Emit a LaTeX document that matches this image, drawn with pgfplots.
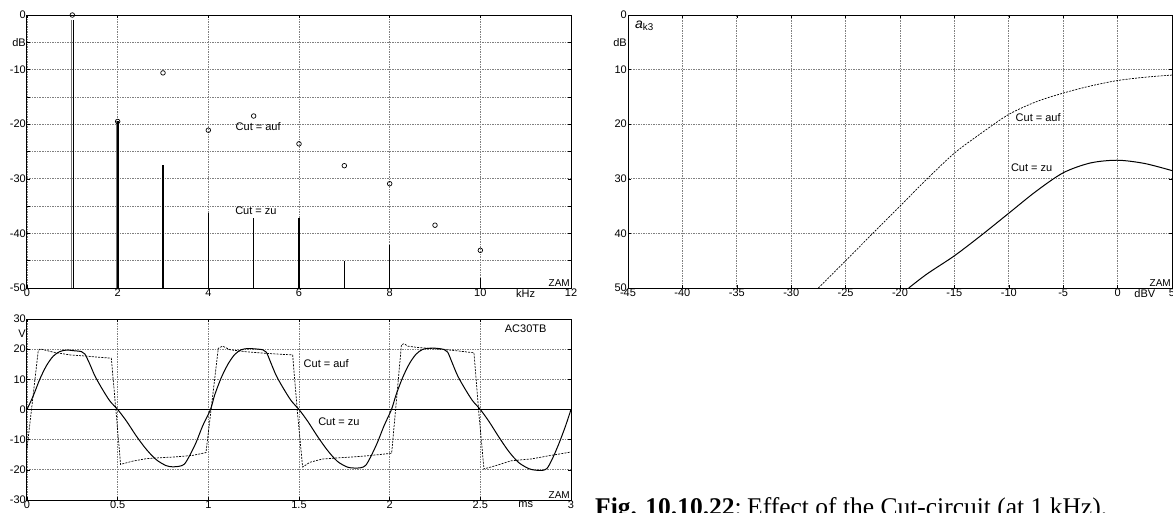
\documentclass[border=0pt]{standalone}
\usepackage{fontspec}
\setmainfont{Liberation Sans}
\newfontfamily\capfont{Liberation Serif}
\usepackage{pgfplots}
\pgfplotsset{compat=1.18}

\pgfplotsset{
  oscbase/.style={
    scale only axis,
    axis line style={black, line width=1pt},
    grid=major,
    major grid style={black!50, line width=0.7pt, dash pattern=on 1.5pt off 1pt},
    tick style={black, line width=0.6pt},
    major tick length=3pt,
    tick label style={font=\fontsize{11}{12}\selectfont, inner sep=1pt},
    extra x tick style={grid=none, major tick length=0pt},
    extra y tick style={grid=none, major tick length=0pt},
  },
}
\tikzset{lab/.style={font=\fontsize{11}{12}\selectfont, inner sep=1pt},
  zam/.style={anchor=south east, font=\fontsize{10}{10}\selectfont, inner sep=1pt}}

\begin{document}
\begin{tikzpicture}
\useasboundingbox (0pt,0pt) rectangle (1173pt,-513pt);

% ---------- spectrum ----------
\begin{axis}[oscbase,
  at={(27pt,-288pt)}, anchor=south west,
  width=544pt, height=273pt,
  xmin=0, xmax=12, ymin=-50, ymax=0,
  xtick={0,2,...,12}, xticklabels={0,2,4,6,8,10,12},
  ytick={-50,-45,...,0}, yticklabels={-50,,-40,,-30,,-20,,-10,dB,0},
  extra x ticks={11}, extra x tick labels={kHz},
  clip=false, unbounded coords=jump,
]
\addplot[black!55, line width=0.9pt] coordinates {
  (0.975,-50) (0.975,-1) (nan,nan)
  (1.98,-50) (1.98,-19.5)
};
\addplot[black, line width=1.4pt] coordinates {
  (1.02,-50) (1.02,-1) (nan,nan)
  (2.01,-50) (2.01,-19.5) (nan,nan)
  (3,-50) (3,-27.5) (nan,nan)
  (4,-50) (4,-36.3) (nan,nan)
  (5,-50) (5,-37.2) (nan,nan)
  (6,-50) (6,-37.2) (nan,nan)
  (7,-50) (7,-45) (nan,nan)
  (8,-50) (8,-42.2) (nan,nan)
  (10,-50) (10,-48.2)
};
\addplot[only marks, mark=o, mark size=2.3pt, black, line width=0.7pt] coordinates {
  (1,0) (2,-19.5) (3,-10.6) (4,-21.1) (5,-18.5) (6,-23.6)
  (7,-27.6) (8,-30.9) (9,-38.5) (10,-43.1)
};
\node[lab] at (axis cs:5.1,-20.5) {Cut = auf};
\node[lab] at (axis cs:5.05,-35.8) {Cut = zu};
\node[zam] at (rel axis cs:1,0) {ZAM};
\end{axis}

% ---------- a_k3 ----------
\begin{axis}[oscbase,
  at={(628pt,-288pt)}, anchor=south west,
  width=544pt, height=273pt,
  xmin=-45, xmax=5, ymin=0, ymax=50, y dir=reverse,
  xtick={-45,-40,...,5}, xticklabels={-45,-40,-35,-30,-25,-20,-15,-10,-5,0,5},
  ytick={0,10,...,50}, yticklabels={0,10,20,30,40,50},
  extra x ticks={2.5}, extra x tick labels={dBV},
  extra y ticks={5}, extra y tick labels={dB},
]
\addplot[black, line width=0.7pt, dash pattern=on 2pt off 1.2pt, smooth] coordinates {
  (-27.5,50) (-25,45) (-22.5,40) (-20,35) (-17.5,30) (-15,25.3)
  (-12.5,21.6) (-10,18.2) (-7.5,15.9) (-5,14.3) (-2.5,13) (0,12) (2.5,11.4) (5,11)
};
\addplot[black, line width=1pt, smooth] coordinates {
  (-19.2,50) (-17.5,47.4) (-15,44.1) (-12.5,40.3) (-10,36.3) (-7.5,32.3)
  (-5,28.9) (-2.5,27.1) (0,26.6) (2.5,27.2) (5,28.5)
};
\node[lab] at (axis cs:-7.3,18.8) {Cut = auf};
\node[lab] at (axis cs:-7.9,28.0) {Cut = zu};
\node[anchor=north west, inner sep=0pt, font=\fontsize{14}{14}\selectfont] at ([xshift=7pt,yshift=-6pt]rel axis cs:0,1) {\textit{a}\textsubscript{k3}};
\node[zam] at (rel axis cs:1,0) {ZAM};
\end{axis}

% ---------- time signal ----------
\begin{axis}[oscbase,
  at={(27pt,-500pt)}, anchor=south west,
  width=544pt, height=181pt,
  xmin=0, xmax=3, ymin=-30, ymax=30,
  xtick={0,0.5,...,3}, xticklabels={0,0.5,1,1.5,2,2.5,3},
  ytick={-30,-20,...,30}, yticklabels={-30,-20,-10,0,10,20,30},
  extra x ticks={2.75}, extra x tick labels={ms},
  extra y ticks={25}, extra y tick labels={V},
]
\addplot[black, line width=0.8pt] coordinates {(0,0) (3,0)};
\addplot[black, line width=0.7pt, dash pattern=on 2pt off 1.2pt] coordinates {
  (0,-13) (0.062,19.5) (0.073,20.1) (0.145,19) (0.236,18.1) (0.328,17.7)
  (0.4,17.3) (0.465,17) (0.49,0) (0.516,-18.2) (0.584,-17.1) (0.658,-16.3)
  (0.731,-16) (0.822,-15.7) (0.914,-15.2) (0.987,-14.3)
  (1.055,20.3) (1.079,21) (1.12,19.8) (1.2,19.2) (1.3,18.7) (1.4,18.3)
  (1.465,18.1) (1.49,0) (1.52,-19.1) (1.56,-17.5) (1.63,-16.4) (1.75,-15.9)
  (1.85,-15.5) (1.95,-14.9) (2.011,-14.5)
  (2.065,21.5) (2.08,21.8) (2.1,21) (2.15,20.6) (2.25,20.1) (2.35,19.6)
  (2.465,18.8) (2.49,0) (2.52,-19.7) (2.58,-18.7) (2.67,-17) (2.78,-16.4)
  (2.89,-15.2) (3,-14.1)
};
\addplot[black, line width=1pt, smooth] coordinates {
  (0,0) (0.035,4.6) (0.071,10.1) (0.108,14.6) (0.145,17.7) (0.181,19.2)
  (0.218,19.7) (0.255,19.5) (0.3,19.2) (0.319,18.4) (0.346,15.1) (0.374,11.2)
  (0.41,7.3) (0.456,2.9) (0.5,0) (0.548,-3.8) (0.603,-8.8) (0.658,-13.2)
  (0.712,-16.6) (0.767,-18.6) (0.804,-19) (0.841,-18.8) (0.868,-18.1)
  (0.896,-15.4) (0.932,-11) (0.969,-5.4) (1.012,0)
  (1.035,4.8) (1.071,10.5) (1.108,15) (1.145,18.2) (1.181,19.8) (1.218,20.2)
  (1.255,20.1) (1.3,19.8) (1.32,19) (1.346,15.3) (1.374,11.3) (1.41,7.4)
  (1.456,3) (1.5,0) (1.548,-3.9) (1.603,-9) (1.658,-13.6) (1.712,-17.2)
  (1.767,-19.1) (1.804,-19.4) (1.841,-19.3) (1.868,-18.5) (1.896,-15.6)
  (1.932,-11) (1.969,-5.4) (2.01,0)
  (2.035,4.8) (2.071,10.5) (2.108,15.1) (2.145,18.3) (2.181,19.9) (2.218,20.3)
  (2.255,20.3) (2.3,19.9) (2.32,19) (2.346,15.3) (2.374,11.3) (2.41,7.4)
  (2.456,3) (2.5,0) (2.548,-4) (2.603,-9.2) (2.658,-14) (2.712,-17.6)
  (2.767,-19.6) (2.804,-20.1) (2.841,-20.2) (2.868,-19.5) (2.896,-16.5)
  (2.932,-11.5) (2.969,-5.6) (3,0)
};
\node[lab] at (axis cs:1.65,15.2) {Cut = auf};
\node[lab] at (axis cs:1.72,-4.2) {Cut = zu};
\node[lab] at (axis cs:2.75,26.7) {AC30TB};
\node[zam] at (rel axis cs:1,0) {ZAM};
\end{axis}

\node[anchor=base east, inner sep=0pt, font=\capfont\fontsize{25.5}{27}\selectfont] at (742pt,-515pt)
  {\textbf{Fig. 10.10.22}:};
\node[anchor=base west, inner sep=0pt, font=\capfont\fontsize{25.5}{27}\selectfont] at (747pt,-515pt)
  {Effect of the Cut-circuit (at 1~kHz).};
\end{tikzpicture}
\end{document}
